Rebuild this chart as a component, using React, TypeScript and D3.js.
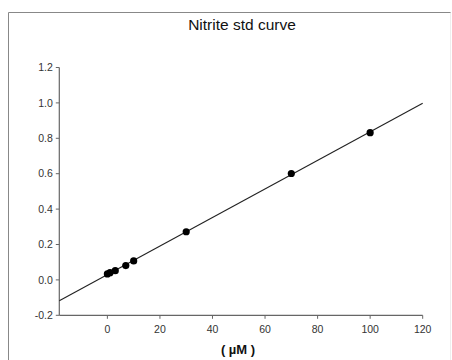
import React from "react";
import * as d3 from "d3";

const concentrations = [0, 1, 3, 7, 10, 30, 70, 100];
const absorbances = [0.034, 0.041, 0.052, 0.081, 0.107, 0.272, 0.601, 0.832];
const xTicks = [0, 20, 40, 60, 80, 100, 120];
const yTicks = [-0.2, 0.0, 0.2, 0.4, 0.6, 0.8, 1.0, 1.2];
const title = "Nitrite std curve";
const xLabel = "( µM )";

const W = 452;
const H = 360;
const FONT = "'Liberation Sans', Arial, sans-serif";

export default function App() {
  const x = d3.scaleLinear().domain([-18.3, 120]).range([59.3, 422.7]);
  const y = d3.scaleLinear().domain([-0.2, 1.2]).range([315.3, 67.5]);

  // least-squares regression of the standards
  const n = concentrations.length;
  const mx = d3.mean(concentrations) as number;
  const my = d3.mean(absorbances) as number;
  let sxy = 0;
  let sxx = 0;
  for (let i = 0; i < n; i++) {
    sxy += (concentrations[i] - mx) * (absorbances[i] - my);
    sxx += (concentrations[i] - mx) ** 2;
  }
  const slope = sxy / sxx;
  const intercept = my - slope * mx;
  const [x0, x1] = x.domain();
  const fit = d3
    .line<number>()
    .x((d) => x(d))
    .y((d) => y(intercept + slope * d))([x0, x1]);

  const axisColor = "#666";
  const textColor = "#333";

  return (
    <svg
      width={W}
      height={H}
      style={{ position: "absolute", left: 0, top: 0, background: "#fff" }}
    >
      <rect x={0} y={0} width={W} height={H} fill="#fff" />
      {/* frame */}
      <line x1={8.5} y1={12.5} x2={451} y2={12.5} stroke="#888" strokeWidth={1} />
      <line x1={8.5} y1={12.5} x2={8.5} y2={H} stroke="#888" strokeWidth={1} />
      <line x1={450.5} y1={12.5} x2={450.5} y2={H} stroke="#eee" strokeWidth={1} />

      <text
        x={242}
        y={29.5}
        textAnchor="middle"
        fontFamily={FONT}
        fontSize={15.5}
        fill="#111"
      >
        {title}
      </text>

      {/* y axis */}
      <line x1={x(x0)} y1={y(1.2)} x2={x(x0)} y2={y(-0.2)} stroke={axisColor} strokeWidth={1.2} />
      {yTicks.map((t) => (
        <g key={t}>
          <line x1={x(x0) - 3.5} x2={x(x0)} y1={y(t)} y2={y(t)} stroke={axisColor} strokeWidth={1} />
          <text
            x={x(x0) - 6.5}
            y={y(t)}
            dy="0.35em"
            textAnchor="end"
            fontFamily={FONT}
            fontSize={10.5}
            fill={textColor}
          >
            {t.toFixed(1)}
          </text>
        </g>
      ))}

      {/* x axis */}
      <line x1={x(x0)} y1={y(-0.2)} x2={x(x1)} y2={y(-0.2)} stroke={axisColor} strokeWidth={1.2} />
      {xTicks.map((t) => (
        <g key={t}>
          <line x1={x(t)} x2={x(t)} y1={y(-0.2)} y2={y(-0.2) + 3.5} stroke={axisColor} strokeWidth={1} />
          <text
            x={x(t)}
            y={y(-0.2) + 14}
            dy="0.35em"
            textAnchor="middle"
            fontFamily={FONT}
            fontSize={10.5}
            fill={textColor}
          >
            {t}
          </text>
        </g>
      ))}
      <text
        x={238}
        y={354}
        textAnchor="middle"
        fontFamily={FONT}
        fontSize={13}
        fontWeight="bold"
        fill="#111"
      >
        {xLabel}
      </text>

      {/* regression line */}
      <path d={fit || ""} fill="none" stroke="#222" strokeWidth={1.1} />

      {/* points */}
      {concentrations.map((c, i) => (
        <circle key={i} cx={x(c)} cy={y(absorbances[i])} r={3.6} fill="#000" />
      ))}
    </svg>
  );
}
